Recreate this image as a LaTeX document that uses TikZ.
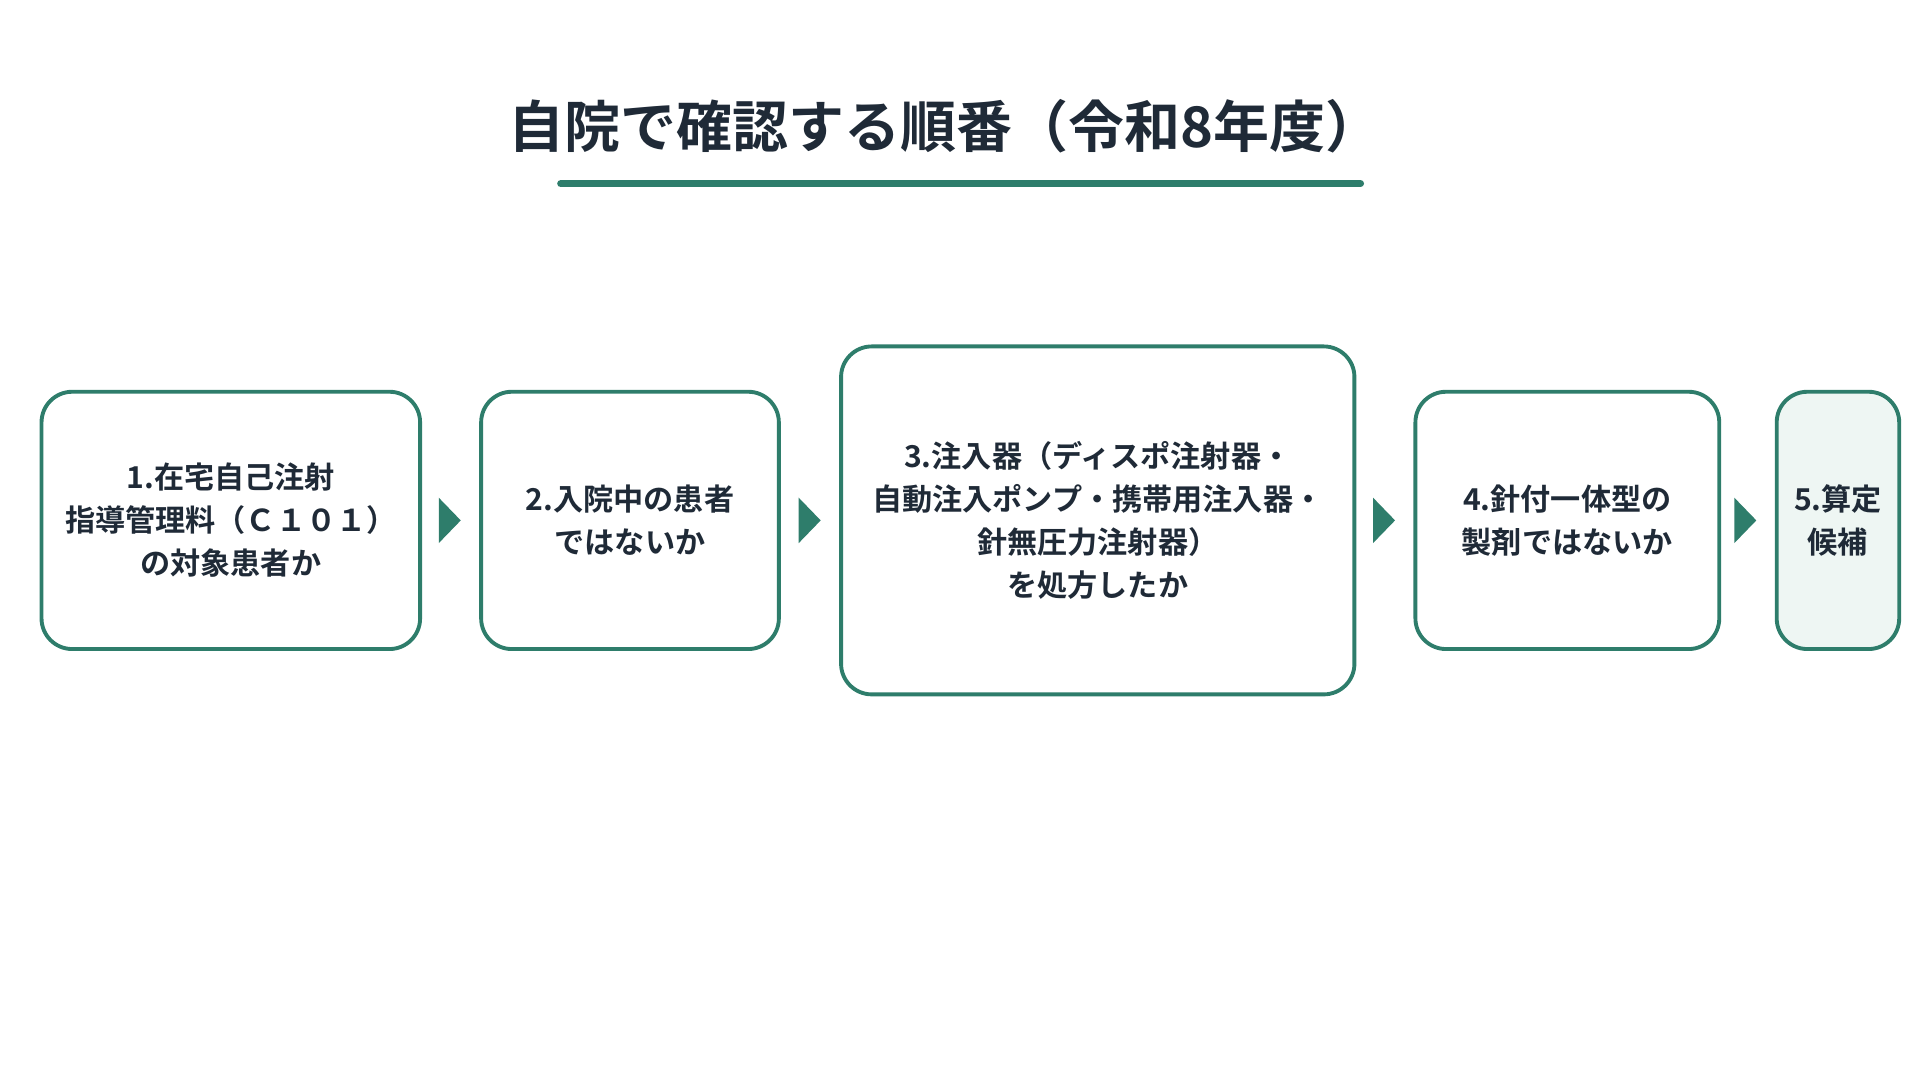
\documentclass[tikz,border=0pt]{standalone}
\usepackage{fontspec}
\setmainfont{Noto Sans CJK JP}[BoldFont={Noto Sans CJK JP Bold}]
\usepackage{xcolor}
\usetikzlibrary{positioning,arrows.meta}
\definecolor{stepgreen}{HTML}{2E7D6B}
\definecolor{steptext}{HTML}{1F2A37}
\definecolor{stepfill}{HTML}{EEF6F3}

\begin{document}
\begin{tikzpicture}[
            x=0.01cm, y=-0.01cm,
            checkbox/.style={rectangle, rounded corners=2.5mm, draw=stepgreen, line width=0.9pt, fill=white,
                         align=center, text=steptext, font=\bfseries\fontsize{7}{10}\selectfont, inner sep=0pt},
            flow/.style={-{Triangle[length=1.8mm, width=3.6mm]}, draw=stepgreen, line width=1.4pt,
                         shorten <=0.15cm, shorten >=0.15cm}
        ]
        \useasboundingbox (0,0) rectangle (1568,882);

        \node[font=\bfseries\fontsize{13}{15}\selectfont, text=steptext] (title) at (772,103) {自院で確認する順番（令和8年度）};
        \draw[stepgreen, line width=1.7pt, line cap=round] (458,150) coordinate (ulstart) -- (1111,150) coordinate (ulend);

        \node[checkbox, minimum width=3.09cm, minimum height=2.1cm] (check1) at (188.5,425) {1.在宅自己注射\\指導管理料（Ｃ１０１）\\の対象患者か};
        \node[checkbox, minimum width=2.43cm, minimum height=2.1cm] (check2) at (514.5,425) {2.入院中の患者\\ではないか};
        \node[checkbox, minimum width=4.19cm, minimum height=2.84cm] (check3) at (896.5,425) {3.注入器（ディスポ注射器・\\自動注入ポンプ・携帯用注入器・\\針無圧力注射器）\\を処方したか};
        \node[checkbox, minimum width=2.48cm, minimum height=2.1cm] (check4) at (1280,425) {4.針付一体型の\\製剤ではないか};
        \node[checkbox, fill=stepfill, minimum width=1.0cm, minimum height=2.1cm] (check5) at (1501,425) {5.算定\\候補};

        \draw[flow] (check1) -- (check2);
        \draw[flow] (check2) -- (check3);
        \draw[flow] (check3) -- (check4);
        \draw[flow] (check4) -- (check5);

    \end{tikzpicture}
\end{document}
